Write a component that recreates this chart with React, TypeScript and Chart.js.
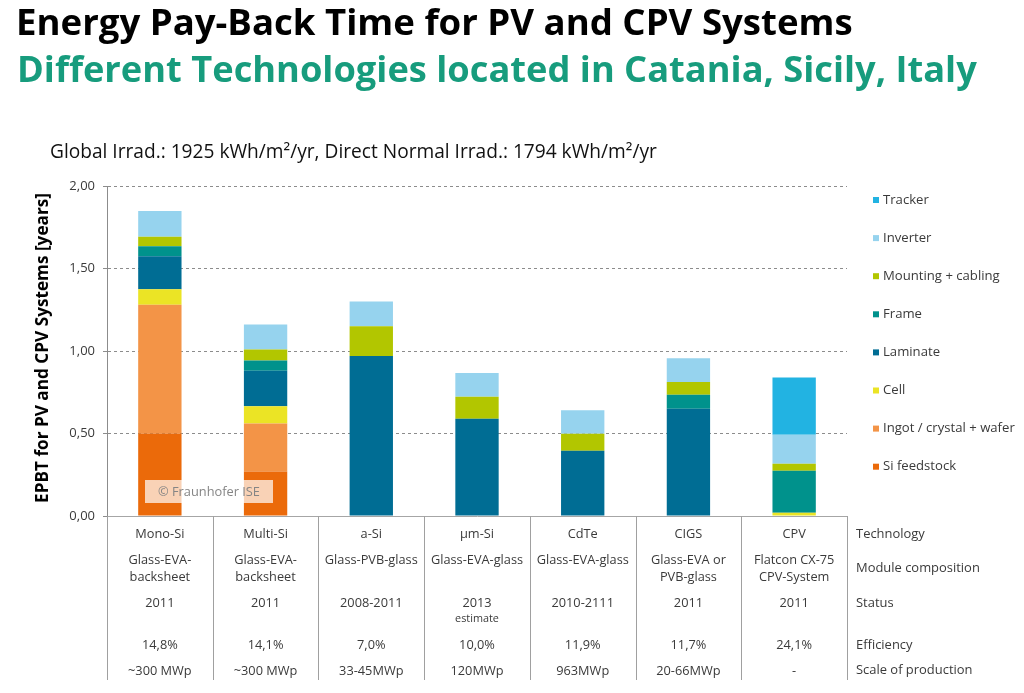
import { useEffect, useRef } from "react";
import { Chart, registerables } from "chart.js";

Chart.register(...registerables);

const FAMILY = "'Open Sans', 'Noto Sans', sans-serif";

// Categories and table rows
const categories = ["Mono-Si", "Multi-Si", "a-Si", "µm-Si", "CdTe", "CIGS", "CPV"];
const moduleComposition = [
  ["Glass-EVA-", "backsheet"],
  ["Glass-EVA-", "backsheet"],
  ["Glass-PVB-glass"],
  ["Glass-EVA-glass"],
  ["Glass-EVA-glass"],
  ["Glass-EVA or", "PVB-glass"],
  ["Flatcon CX-75", "CPV-System"],
];
const statusYears = ["2011", "2011", "2008-2011", "2013", "2010-2111", "2011", "2011"];
const statusNotes = ["", "", "", "estimate", "", "", ""];
const efficiency = ["14,8%", "14,1%", "7,0%", "10,0%", "11,9%", "11,7%", "24,1%"];
const scaleOfProduction = ["~300 MWp", "~300 MWp", "33-45MWp", "120MWp", "963MWp", "20-66MWp", "-"];
const rowLabels = ["Technology", "Module composition", "Status", "Efficiency", "Scale of production"];

// Series values (years), bottom to top
const siFeedstock = [0.5, 0.27, 0, 0, 0, 0, 0];
const ingotWafer = [0.78, 0.29, 0, 0, 0, 0, 0];
const cell = [0.095, 0.105, 0, 0, 0, 0, 0.02];
const laminate = [0.2, 0.215, 0.97, 0.59, 0.395, 0.65, 0];
const frame = [0.06, 0.062, 0, 0, 0, 0.085, 0.255];
const mounting = [0.057, 0.067, 0.18, 0.133, 0.103, 0.077, 0.042];
const inverter = [0.157, 0.152, 0.15, 0.144, 0.143, 0.144, 0.176];
const tracker = [0, 0, 0, 0, 0, 0, 0.347];

const yTicks = [0, 0.5, 1, 1.5, 2];

const seriesNames = [
  "Si feedstock",
  "Ingot / crystal + wafer",
  "Cell",
  "Laminate",
  "Frame",
  "Mounting + cabling",
  "Inverter",
  "Tracker",
];
const seriesValues = [siFeedstock, ingotWafer, cell, laminate, frame, mounting, inverter, tracker];
const seriesColors = ["#eb6a0a", "#f39447", "#ebe425", "#006d94", "#00928c", "#b2c600", "#96d3ee", "#22b3e2"];

function fitSize(ctx: CanvasRenderingContext2D, text: string, weight: string, target: number) {
  ctx.font = `${weight} 100px ${FAMILY}`;
  const w = ctx.measureText(text).width;
  return (100 * target) / w;
}

const overlay = {
  id: "overlay",
  afterDraw(chart: any) {
    const ctx: CanvasRenderingContext2D = chart.ctx;
    const area = chart.chartArea;
    const xs = chart.scales.x;
    ctx.save();

    // Titles
    ctx.textAlign = "left";
    ctx.textBaseline = "alphabetic";
    let s = fitSize(ctx, "Energy Pay-Back Time for PV and CPV Systems", "bold", 837);
    ctx.font = `bold ${s}px ${FAMILY}`;
    ctx.fillStyle = "#000000";
    ctx.fillText("Energy Pay-Back Time for PV and CPV Systems", 16, 35);
    s = fitSize(ctx, "Different Technologies located in Catania, Sicily, Italy", "bold", 960);
    ctx.font = `bold ${s}px ${FAMILY}`;
    ctx.fillStyle = "#179c7d";
    ctx.fillText("Different Technologies located in Catania, Sicily, Italy", 17, 82);

    // Subtitle
    const sub = "Global Irrad.: 1925 kWh/m²/yr, Direct Normal Irrad.: 1794 kWh/m²/yr";
    s = fitSize(ctx, sub, "normal", 607);
    ctx.font = `normal ${s}px ${FAMILY}`;
    ctx.fillStyle = "#111111";
    ctx.textBaseline = "middle";
    ctx.fillText(sub, 50, 153);

    // Y axis title
    const yt = "EPBT for PV and CPV Systems [years]";
    s = fitSize(ctx, yt, "bold", 310);
    ctx.save();
    ctx.translate(43, 348);
    ctx.rotate(-Math.PI / 2);
    ctx.font = `bold ${s}px ${FAMILY}`;
    ctx.fillStyle = "#000000";
    ctx.textAlign = "center";
    ctx.textBaseline = "middle";
    ctx.fillText(yt, 0, 0);
    ctx.restore();

    // Legend (reverse order, Tracker on top)
    const ls = fitSize(ctx, "Ingot / crystal + wafer", "normal", 132);
    ctx.font = `normal ${ls}px ${FAMILY}`;
    ctx.textAlign = "left";
    ctx.textBaseline = "middle";
    const ds = chart.data.datasets;
    for (let k = 0; k < ds.length; k++) {
      const d = ds[ds.length - 1 - k];
      const y = 200 + k * 38.1;
      ctx.fillStyle = d.backgroundColor;
      ctx.fillRect(873, y - 3, 6, 6);
      ctx.fillStyle = "#3a3a3a";
      ctx.fillText(d.label, 883, y);
    }

    // Table separators
    const n = categories.length;
    const bounds: number[] = [area.left];
    for (let i = 1; i < n; i++) {
      bounds.push((xs.getPixelForValue(i - 1) + xs.getPixelForValue(i)) / 2);
    }
    bounds.push(area.right);
    ctx.strokeStyle = "#a0a0a0";
    ctx.lineWidth = 1;
    for (const b of bounds) {
      const px = Math.round(b) + 0.5;
      ctx.beginPath();
      ctx.moveTo(px, area.bottom);
      ctx.lineTo(px, 680);
      ctx.stroke();
    }

    // Table text
    const ts = fitSize(ctx, "Glass-PVB-glass", "normal", 93);
    ctx.fillStyle = "#3a3a3a";
    ctx.textAlign = "center";
    for (let i = 0; i < n; i++) {
      const cx = xs.getPixelForValue(i);
      ctx.font = `normal ${ts}px ${FAMILY}`;
      ctx.fillText(categories[i], cx, 534);
      moduleComposition[i].forEach((line, j) => ctx.fillText(line, cx, 560 + j * 17));
      ctx.fillText(statusYears[i], cx, 603);
      ctx.fillText(efficiency[i], cx, 645);
      ctx.fillText(scaleOfProduction[i], cx, 671);
      if (statusNotes[i]) {
        ctx.font = `normal ${ts * 0.85}px ${FAMILY}`;
        ctx.fillText(statusNotes[i], cx, 619);
      }
    }
    // Row labels
    const rs = fitSize(ctx, "Module composition", "normal", 124);
    ctx.font = `normal ${rs}px ${FAMILY}`;
    ctx.textAlign = "left";
    const rowY = [534, 568, 603, 645, 670];
    rowLabels.forEach((t, i) => ctx.fillText(t, 856, rowY[i]));

    // Watermark
    ctx.fillStyle = "rgba(255,255,255,0.7)";
    ctx.fillRect(145, 480, 128, 23);
    const ws = fitSize(ctx, "© Fraunhofer ISE", "normal", 102);
    ctx.font = `normal ${ws}px ${FAMILY}`;
    ctx.fillStyle = "#858585";
    ctx.textAlign = "center";
    ctx.fillText("© Fraunhofer ISE", 209, 492);

    ctx.restore();
  },
};

export default function App() {
  const ref = useRef<HTMLCanvasElement>(null);
  useEffect(() => {
    const canvas = ref.current!;
    const chart = new Chart(canvas, {
      type: "bar",
      data: {
        labels: categories,
        datasets: seriesNames.map((name, i) => ({
          label: name,
          data: seriesValues[i],
          backgroundColor: seriesColors[i],
          borderWidth: 0,
          barPercentage: 0.41,
          categoryPercentage: 1,
        })),
      },
      options: {
        responsive: false,
        animation: false,
        devicePixelRatio: 1,
        layout: { padding: { top: 186, right: 177, bottom: 0, left: 0 } },
        plugins: {
          legend: { display: false },
          tooltip: { enabled: false },
        },
        scales: {
          x: {
            stacked: true,
            grid: { display: false },
            border: { display: true, color: "#a6a6a6", width: 1 },
            ticks: { display: false },
            afterFit: (sc: any) => {
              sc.height = 177;
            },
          },
          y: {
            stacked: true,
            min: 0,
            max: 2,
            afterBuildTicks: (sc: any) => {
              sc.ticks = yTicks.map((v) => ({ value: v }));
            },
            ticks: {
              callback: (v: any) => Number(v).toFixed(2).replace(".", ","),
              font: { family: FAMILY, size: 13 },
              color: "#3a3a3a",
              padding: 8,
            },
            grid: { color: "#8c8c8c", tickLength: 4, tickColor: "#8c8c8c", drawTicks: true },
            border: { dash: [3, 3], color: "#8c8c8c", width: 1 },
            afterFit: (sc: any) => {
              sc.width = 107;
            },
          },
        },
      },
      plugins: [overlay],
    } as any);
    return () => chart.destroy();
  }, []);
  return (
    <div style={{ position: "absolute", left: 0, top: 0, width: 1024, height: 693, background: "#ffffff" }}>
      <canvas ref={ref} width={1024} height={693} style={{ display: "block" }} />
    </div>
  );
}
